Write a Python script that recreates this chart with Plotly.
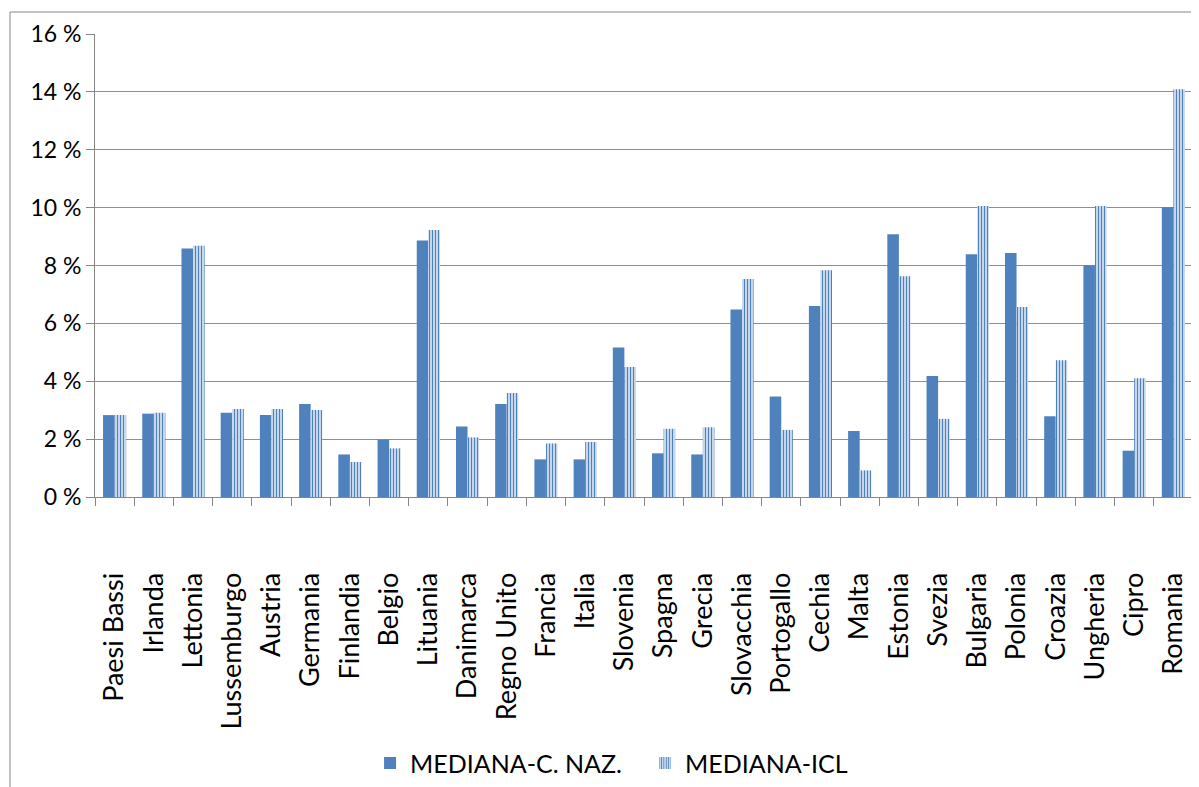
import plotly.graph_objects as go

countries = ["Paesi Bassi", "Irlanda", "Lettonia", "Lussemburgo", "Austria", "Germania",
             "Finlandia", "Belgio", "Lituania", "Danimarca", "Regno Unito", "Francia",
             "Italia", "Slovenia", "Spagna", "Grecia", "Slovacchia", "Portogallo",
             "Cechia", "Malta", "Estonia", "Svezia", "Bulgaria", "Polonia", "Croazia",
             "Ungheria", "Cipro", "Romania"]
mediana_cnaz = [2.83, 2.88, 8.59, 2.91, 2.83, 3.21, 1.47, 1.98, 8.86, 2.44, 3.21, 1.30,
                1.30, 5.17, 1.51, 1.47, 6.48, 3.47, 6.60, 2.28, 9.08, 4.18, 8.39, 8.43,
                2.79, 8.01, 1.60, 10.01]
mediana_icl = [2.83, 2.91, 8.68, 3.04, 3.04, 3.01, 1.21, 1.68, 9.23, 2.06, 3.59, 1.85,
               1.90, 4.49, 2.36, 2.41, 7.53, 2.32, 7.84, 0.92, 7.63, 2.70, 10.06, 6.57,
               4.73, 10.06, 4.10, 14.09]
y_ticks = [0, 2, 4, 6, 8, 10, 12, 14, 16]
y_tick_labels = [f"{v} %" for v in y_ticks]

BLUE = "#4F81BD"
FONT = "Lato"

fig = go.Figure()
fig.add_trace(go.Bar(
    x=countries, y=mediana_cnaz, name="MEDIANA-C. NAZ.",
    marker=dict(color=BLUE, line=dict(width=0)),
))
fig.add_trace(go.Bar(
    x=countries, y=mediana_icl, name="MEDIANA-ICL",
    marker=dict(color=BLUE, line=dict(width=0),
                pattern=dict(shape="|", fgcolor=BLUE, bgcolor="#d4e1f1",
                             size=3, solidity=0.4, fillmode="replace")),
))

# page body has an 8px margin, so the figure is shifted by 8px
fig.update_layout(
    width=1191, height=779,
    margin=dict(l=87, r=6, t=26, b=290, autoexpand=False),
    paper_bgcolor="white", plot_bgcolor="white",
    barmode="group", bargap=0.41, bargroupgap=0,
    font=dict(family=FONT, color="black"),
    showlegend=True,
    legend=dict(orientation="h", x=0.2505, xanchor="left", y=-0.575, yanchor="middle",
                font=dict(family=FONT, size=25, color="black"),
                itemwidth=30, entrywidth=230, entrywidthmode="pixels",
                traceorder="normal"),
    xaxis=dict(
        type="category", tickangle=-90, tickson="boundaries",
        ticks="outside", ticklen=8, tickcolor="#868686", tickwidth=1,
        showline=True, linecolor="#868686", linewidth=1,
        showgrid=False, ticklabelstandoff=64,
        tickfont=dict(family=FONT, size=27, color="black"),
    ),
    yaxis=dict(
        range=[0, 16], tickmode="array", tickvals=y_ticks, ticktext=y_tick_labels,
        ticks="outside", ticklen=8, tickcolor="#868686", tickwidth=1,
        showline=True, linecolor="#868686", linewidth=1,
        showgrid=True, gridcolor="#8f8f8f", gridwidth=1,
        zeroline=False,
        tickfont=dict(family=FONT, size=23, color="black"),
    ),
    shapes=[dict(type="rect", xref="paper", yref="paper",
                 x0=-0.0774, x1=1.02, y0=-0.7, y1=1.0475,
                 line=dict(color="#868686", width=1), fillcolor="rgba(0,0,0,0)",
                 layer="below")],
)

fig.write_html("out.html")
